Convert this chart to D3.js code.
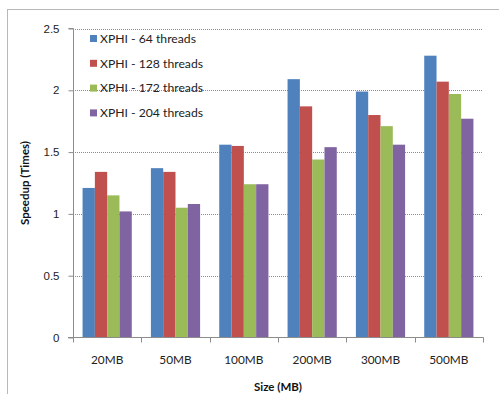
<!DOCTYPE html>
<html>
<head>
<meta charset="utf-8">
<script src="https://cdn.jsdelivr.net/npm/d3@7"></script>
<style>
  html, body { margin: 0; padding: 0; background: #fff; }
  svg { display: block; font-family: Lato, "Open Sans", sans-serif; }
</style>
</head>
<body>
<svg id="chart" width="499" height="394"></svg>
<script>
// Data
const categories = ["20MB", "50MB", "100MB", "200MB", "300MB", "500MB"];
const seriesNames = ["XPHI - 64 threads", "XPHI - 128 threads", "XPHI - 172 threads", "XPHI - 204 threads"];
const threads64  = [1.21, 1.37, 1.56, 2.09, 1.99, 2.28];
const threads128 = [1.34, 1.34, 1.55, 1.87, 1.80, 2.07];
const threads172 = [1.15, 1.05, 1.24, 1.44, 1.71, 1.97];
const threads204 = [1.02, 1.08, 1.24, 1.54, 1.56, 1.77];
const yTicks = [0, 0.5, 1, 1.5, 2, 2.5];
const colors = ["#4F81BD", "#C0504D", "#9BBB59", "#8064A2"];

const series = [threads64, threads128, threads172, threads204];

const svg = d3.select("#chart");

// Outer chart frame
svg.append("rect")
  .attr("x", 7.5).attr("y", 9.5)
  .attr("width", 520).attr("height", 420)
  .attr("fill", "none").attr("stroke", "#b8b8b8").attr("stroke-width", 1);

const plot = { left: 73, right: 483, top: 28.5, bottom: 337.5 };

const x = d3.scaleBand().domain(categories).range([plot.left, plot.right]).paddingInner(0).paddingOuter(0);
const y = d3.scaleLinear().domain([0, 2.5]).range([plot.bottom, plot.top]);

// Grid lines (dotted)
svg.append("g")
  .selectAll("line")
  .data(yTicks.filter(d => d > 0))
  .join("line")
  .attr("x1", plot.left).attr("x2", plot.right)
  .attr("y1", d => Math.round(y(d)) + 0.5).attr("y2", d => Math.round(y(d)) + 0.5)
  .attr("stroke", "#8c8c8c").attr("stroke-width", 1)
  .attr("stroke-dasharray", "1,1");

// Bars
const groupWidth = x.bandwidth() * 0.72;
const xs = d3.scaleBand().domain(d3.range(series.length)).range([0, groupWidth]).padding(0);

const groups = svg.append("g")
  .selectAll("g")
  .data(categories)
  .join("g")
  .attr("transform", c => `translate(${x(c) + (x.bandwidth() - groupWidth) / 2},0)`);

groups.selectAll("rect")
  .data((c, i) => series.map((s, k) => ({ k, v: s[i] })))
  .join("rect")
  .attr("x", d => xs(d.k))
  .attr("width", xs.bandwidth())
  .attr("y", d => y(d.v))
  .attr("height", d => y(0) - y(d.v))
  .attr("fill", d => colors[d.k]);

// Y axis
const yAxis = d3.axisLeft(y).tickValues(yTicks).tickFormat(d => d3.format("")(d)).tickSize(5).tickPadding(9);
const gy = svg.append("g").attr("transform", `translate(${plot.left + 0.5},0)`).call(yAxis);
gy.select(".domain").attr("stroke", "#8c8c8c").attr("d", `M-5,${plot.top}H0V${plot.bottom}`);
gy.selectAll(".tick line").attr("stroke", "#8c8c8c");
gy.selectAll(".tick text").attr("fill", "#222").attr("font-size", 11.5);

// X axis
const gx = svg.append("g").attr("transform", `translate(0,${plot.bottom})`);
gx.append("line")
  .attr("x1", plot.left - 5).attr("x2", plot.right + 0.5)
  .attr("y1", 0).attr("y2", 0)
  .attr("stroke", "#8c8c8c");
const bounds = categories.map(c => x(c)).concat([plot.right]);
gx.selectAll("line.tk")
  .data(bounds)
  .join("line")
  .attr("class", "tk")
  .attr("x1", d => Math.round(d) + 0.5).attr("x2", d => Math.round(d) + 0.5)
  .attr("y1", 0).attr("y2", 5)
  .attr("stroke", "#8c8c8c");
gx.selectAll("text")
  .data(categories)
  .join("text")
  .attr("x", c => x(c) + x.bandwidth() / 2)
  .attr("y", 26)
  .attr("text-anchor", "middle")
  .attr("font-size", 11.8)
  .attr("fill", "#222")
  .text(c => c);

// Axis titles
svg.append("text")
  .attr("x", (plot.left + plot.right) / 2)
  .attr("y", 391)
  .attr("text-anchor", "middle")
  .attr("font-size", 11.5).attr("font-weight", "bold").attr("fill", "#111")
  .text("Size (MB)");

svg.append("text")
  .attr("transform", `translate(29,183) rotate(-90)`)
  .attr("text-anchor", "middle")
  .attr("font-size", 11.5).attr("font-weight", "bold").attr("fill", "#111")
  .text("Speedup (Times)");

// Legend
const legend = svg.append("g")
  .selectAll("g")
  .data(seriesNames)
  .join("g")
  .attr("transform", (d, i) => `translate(90,${38.5 + i * 24.8})`);
legend.append("rect")
  .attr("x", 0).attr("y", -3.5).attr("width", 7).attr("height", 7)
  .attr("fill", (d, i) => colors[i]);
legend.append("text")
  .attr("x", 10).attr("y", 4.2)
  .attr("font-size", 12.2).attr("fill", "#222")
  .text(d => d);
</script>
</body>
</html>
